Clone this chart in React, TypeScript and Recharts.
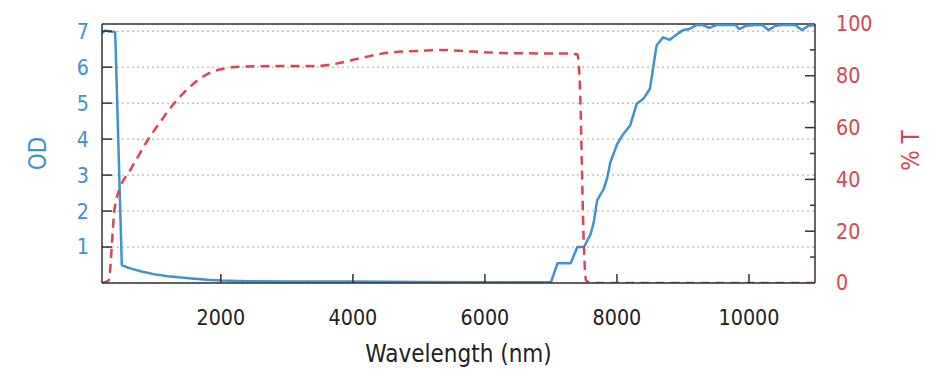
import React from 'react';
import { LineChart, Line, XAxis, YAxis, CartesianGrid, ReferenceLine } from 'recharts';

// OD curve (left axis)
const WL_OD = [200, 250, 300, 400, 500, 600, 800, 1000, 1200, 1400, 1600, 1800, 2000, 2400, 3000, 4000, 5000, 6000, 6900, 7000, 7100, 7300, 7400, 7500, 7600, 7650, 7700, 7800, 7850, 7900, 8000, 8100, 8200, 8300, 8400, 8500, 8550, 8600, 8700, 8800, 8900, 9000, 9100, 9200, 9300, 9400, 9500, 9600, 9700, 9800, 9850, 9950, 10100, 10200, 10300, 10400, 10500, 10600, 10700, 10800, 10900, 11000];
const OD = [6.95, 7.02, 7.0, 6.97, 0.5, 0.42, 0.32, 0.24, 0.19, 0.15, 0.12, 0.09, 0.07, 0.05, 0.04, 0.04, 0.03, 0.02, 0.02, 0.02, 0.55, 0.55, 1.0, 1.0, 1.35, 1.7, 2.3, 2.62, 2.9, 3.35, 3.85, 4.15, 4.38, 4.98, 5.12, 5.4, 6.0, 6.6, 6.83, 6.76, 6.9, 7.03, 7.06, 7.17, 7.17, 7.09, 7.17, 7.17, 7.17, 7.17, 7.06, 7.15, 7.17, 7.17, 7.03, 7.15, 7.17, 7.17, 7.17, 7.03, 7.15, 7.17];

// %T curve (right axis)
const WL_T = [200, 300, 388, 478, 614, 796, 887, 1050, 1281, 1500, 1690, 1850, 2000, 2300, 2950, 3455, 3707, 4161, 4565, 5019, 5322, 5776, 6432, 7240, 7400, 7445, 7468, 7492, 7533, 7600, 11000];
const T = [0, 1, 28, 37, 43, 51, 55, 61, 69, 75, 79, 81.3, 82.5, 83.5, 83.8, 83.8, 84.5, 87.1, 89, 89.6, 90, 89.4, 88.7, 88.6, 88.3, 72, 46, 20, 1, 0, 0];

const X_TICKS = [2000, 4000, 6000, 8000, 10000];
const OD_TICKS = [1, 2, 3, 4, 5, 6, 7];
const T_TICKS = [0, 10, 20, 30, 40, 50, 60, 70, 80, 90, 100];
const X_DOMAIN: [number, number] = [200, 11000];
const OD_MAX = 7.2;
const T_MAX = 100;

const odData = WL_OD.map((wl, i) => ({ wl, od: OD[i] }));
const tData = WL_T.map((wl, i) => ({ wl, t: T[i] }));

const BLUE = '#3d92d2';
const RED = '#e0434e';
const FRAME = '#333';
const FONT = "'DejaVu Sans', sans-serif";
const TICK_FS = 22;
const TICK_SX = 0.87;
const TITLE_FS = 24;
const TITLE_SX = 0.9;

const LEFT_MARGIN = 13;
const RIGHT_MARGIN = 21;
const BOTTOM_MARGIN = 26;

const LeftTick = (props: any) => {
  const { x, y, payload } = props;
  const ax = x + LEFT_MARGIN;
  return (
    <g>
      <line x1={ax} x2={ax + 10} y1={y} y2={y} stroke={FRAME} strokeWidth={1.5} />
      <text transform={`translate(${x},${y}) scale(${TICK_SX},1)`} x={0} y={0} textAnchor="end" dominantBaseline="central" fill={BLUE} fontSize={TICK_FS} fontFamily={FONT}>
        {payload.value}
      </text>
    </g>
  );
};

const RightTick = (props: any) => {
  const { x, y, payload } = props;
  const ax = x - RIGHT_MARGIN;
  const v = payload.value;
  const major = v % 20 === 0;
  const len = major ? 10 : 5;
  return (
    <g>
      {v > 0 && v < T_MAX && (
        <line x1={ax - len} x2={ax} y1={y} y2={y} stroke={FRAME} strokeWidth={1.5} />
      )}
      {major && (
        <text transform={`translate(${x},${y}) scale(${TICK_SX},1)`} x={0} y={0} textAnchor="start" dominantBaseline="central" fill={RED} fontSize={TICK_FS} fontFamily={FONT}>
          {v}
        </text>
      )}
    </g>
  );
};

const BottomTick = (props: any) => {
  const { x, y, payload } = props;
  const ay = y - BOTTOM_MARGIN;
  return (
    <g>
      <line x1={x} x2={x} y1={ay - 9} y2={ay} stroke={FRAME} strokeWidth={1.5} />
      <text transform={`translate(${x},${y}) scale(${TICK_SX},1)`} x={0} y={0} dy="0.72em" textAnchor="middle" fill="#222" fontSize={TICK_FS} fontFamily={FONT}>
        {payload.value}
      </text>
    </g>
  );
};

const OdLabel = (props: any) => {
  const { viewBox } = props;
  const cx = viewBox.x + 38;
  const cy = viewBox.y + viewBox.height / 2;
  return (
    <text transform={`translate(${cx},${cy}) rotate(-90) scale(${TITLE_SX},1)`} x={0} y={0} textAnchor="middle" dominantBaseline="central" fill={BLUE} fontSize={TITLE_FS} fontFamily={FONT}>
      OD
    </text>
  );
};

const TLabel = (props: any) => {
  const { viewBox } = props;
  const cx = viewBox.x + 96;
  const cy = viewBox.y + viewBox.height / 2 - 3;
  return (
    <text transform={`translate(${cx},${cy}) rotate(-90) scale(${TITLE_SX},1)`} x={0} y={0} textAnchor="middle" dominantBaseline="central" fill={RED} fontSize={TITLE_FS} fontFamily={FONT}>
      % T
    </text>
  );
};

const XLabel = (props: any) => {
  const { viewBox } = props;
  const cx = viewBox.x + viewBox.width / 2;
  const cy = viewBox.y + 71;
  return (
    <text transform={`translate(${cx},${cy}) scale(${TITLE_SX},1)`} x={0} y={0} textAnchor="middle" dominantBaseline="central" fill="#222" fontSize={TITLE_FS} fontFamily={FONT}>
      Wavelength (nm)
    </text>
  );
};

export default function App() {
  return (
    <div style={{ position: 'absolute', left: 0, top: 0, width: 944, height: 382, background: '#fff' }}>
      <LineChart width={944} height={382} margin={{ top: 24, right: 0, bottom: 0, left: 0 }}>
        <CartesianGrid yAxisId="od" xAxisId="x" vertical={false} stroke="#a8a8a8" strokeDasharray="2 3" />
        <XAxis
          xAxisId="x"
          dataKey="wl"
          type="number"
          domain={X_DOMAIN}
          ticks={X_TICKS}
          allowDataOverflow
          height={99}
          tickSize={0}
          tickMargin={BOTTOM_MARGIN}
          tickLine={false}
          axisLine={{ stroke: FRAME, strokeWidth: 1.5 }}
          tick={<BottomTick />}
          label={<XLabel />}
        />
        <YAxis
          yAxisId="od"
          orientation="left"
          type="number"
          domain={[0, OD_MAX]}
          ticks={OD_TICKS}
          allowDataOverflow
          width={102}
          tickSize={0}
          tickMargin={LEFT_MARGIN}
          tickLine={false}
          axisLine={{ stroke: FRAME, strokeWidth: 1.5 }}
          tick={<LeftTick />}
          label={<OdLabel />}
        />
        <YAxis
          yAxisId="t"
          orientation="right"
          type="number"
          domain={[0, T_MAX]}
          ticks={T_TICKS}
          allowDataOverflow
          width={129}
          tickSize={0}
          tickMargin={RIGHT_MARGIN}
          tickLine={false}
          axisLine={{ stroke: FRAME, strokeWidth: 1.5 }}
          tick={<RightTick />}
          label={<TLabel />}
        />
        <ReferenceLine yAxisId="od" xAxisId="x" y={OD_MAX} stroke={FRAME} strokeWidth={1.5} />
        <Line
          xAxisId="x"
          yAxisId="od"
          data={odData}
          dataKey="od"
          type="linear"
          stroke={BLUE}
          strokeWidth={2.5}
          dot={false}
          isAnimationActive={false}
          strokeLinejoin="round"
        />
        <Line
          xAxisId="x"
          yAxisId="t"
          data={tData}
          dataKey="t"
          type="monotone"
          stroke={RED}
          strokeWidth={2.5}
          strokeDasharray="9 6"
          dot={false}
          isAnimationActive={false}
        />
      </LineChart>
    </div>
  );
}
